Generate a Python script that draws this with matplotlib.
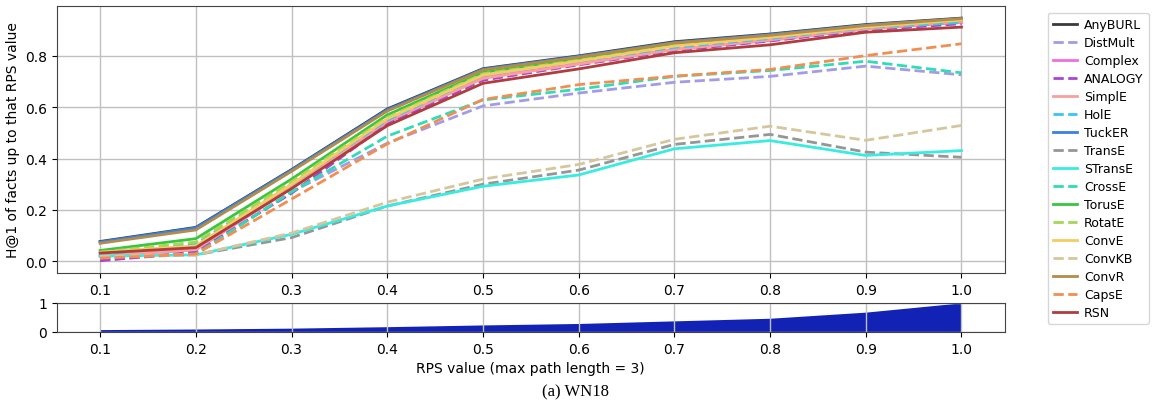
import numpy as np
import matplotlib
matplotlib.use("Agg")
import matplotlib.pyplot as plt

# RPS bins
rps = [0.1, 0.2, 0.3, 0.4, 0.5, 0.6, 0.7, 0.8, 0.9, 1.0]

# H@1 per model
anyburl = [0.077, 0.132, 0.357, 0.593, 0.750, 0.800, 0.855, 0.885, 0.922, 0.947]
distmult = [0.005, 0.030, 0.270, 0.460, 0.605, 0.655, 0.697, 0.720, 0.760, 0.726]
complex_ = [0.020, 0.045, 0.285, 0.540, 0.715, 0.770, 0.825, 0.860, 0.905, 0.930]
analogy = [0.002, 0.036, 0.265, 0.535, 0.705, 0.765, 0.820, 0.858, 0.900, 0.925]
simple = [0.022, 0.045, 0.290, 0.545, 0.712, 0.768, 0.825, 0.862, 0.905, 0.932]
hole = [0.025, 0.068, 0.300, 0.550, 0.725, 0.780, 0.833, 0.868, 0.910, 0.930]
tucker = [0.075, 0.130, 0.355, 0.590, 0.748, 0.798, 0.852, 0.883, 0.920, 0.945]
transe = [0.018, 0.025, 0.092, 0.215, 0.300, 0.355, 0.455, 0.494, 0.425, 0.405]
stranse = [0.020, 0.025, 0.105, 0.215, 0.292, 0.336, 0.438, 0.470, 0.412, 0.431]
crosse = [0.015, 0.028, 0.270, 0.487, 0.628, 0.670, 0.720, 0.743, 0.779, 0.734]
toruse = [0.042, 0.088, 0.320, 0.570, 0.735, 0.788, 0.842, 0.875, 0.915, 0.940]
rotate = [0.035, 0.075, 0.310, 0.560, 0.730, 0.783, 0.840, 0.873, 0.913, 0.938]
conve = [0.035, 0.060, 0.300, 0.555, 0.725, 0.780, 0.838, 0.872, 0.912, 0.940]
convkb = [0.020, 0.025, 0.110, 0.230, 0.320, 0.377, 0.475, 0.526, 0.471, 0.529]
convr = [0.070, 0.122, 0.350, 0.585, 0.745, 0.795, 0.850, 0.880, 0.918, 0.945]
capse = [0.012, 0.028, 0.242, 0.457, 0.630, 0.688, 0.721, 0.747, 0.801, 0.847]
rsn = [0.032, 0.053, 0.283, 0.528, 0.693, 0.749, 0.812, 0.843, 0.892, 0.912]

# share of facts up to each RPS value
share = [0.08, 0.10, 0.13, 0.18, 0.24, 0.29, 0.38, 0.47, 0.68, 1.0]

models = ["AnyBURL", "DistMult", "Complex", "ANALOGY", "SimplE", "HolE", "TuckER",
          "TransE", "STransE", "CrossE", "TorusE", "RotatE", "ConvE", "ConvKB",
          "ConvR", "CapsE", "RSN"]
values = [anyburl, distmult, complex_, analogy, simple, hole, tucker, transe,
          stranse, crosse, toruse, rotate, conve, convkb, convr, capse, rsn]
colors = ["#3a3a3a", "#a49be6", "#f06ee0", "#a844d6", "#f8a0a0", "#38c4f8",
          "#3a82e0", "#969696", "#38ecdf", "#2edcb6", "#38c63e", "#a2d854",
          "#f4cc62", "#d6c69e", "#b48c48", "#f28e50", "#b03c3c"]

fig = plt.figure(figsize=(11.52, 4.10), dpi=100)
ax = fig.add_axes([0.0495, 0.332, 0.8225, 0.651])
ax2 = fig.add_axes([0.0495, 0.188, 0.8225, 0.071])

for i, (name, v, c) in enumerate(zip(models, values, colors)):
    ls = "-" if i % 2 == 0 else "--"
    ax.plot(rps, v, ls, color=c, lw=2, label=name)

ax.set_xticks(rps)
ax.set_yticks([0.0, 0.2, 0.4, 0.6, 0.8])
ax.set_ylabel("H@1 of facts up to that RPS value", fontsize=10)
ax.tick_params(labelsize=10)
ax.grid(True, color="#c0c0c0", lw=1)
for s in ax.spines.values():
    s.set_color("#444444")

ax.legend(loc="upper left", bbox_to_anchor=(0.9097, 0.966),
          bbox_transform=fig.transFigure, fontsize=9, handlelength=1.9,
          handletextpad=0.6, labelspacing=0.4, borderaxespad=0, borderpad=0.4)

ax2.fill_between(rps, 0, share, color="#1222b5", lw=0)
ax2.set_xlim(ax.get_xlim())
ax2.set_ylim(0, 1)
ax2.set_xticks(rps)
ax2.set_yticks([0, 1])
ax2.tick_params(labelsize=10)
ax2.grid(True, color="#c0c0c0", lw=1)
for s in ax2.spines.values():
    s.set_color("#444444")
ax2.set_xlabel("RPS value (max path length = 3)", fontsize=10)

fig.text(0.5, 0.044, "(a) WN18", ha="center", va="center",
         fontsize=12, family="Liberation Serif")

fig.savefig("out.png", dpi=100)
